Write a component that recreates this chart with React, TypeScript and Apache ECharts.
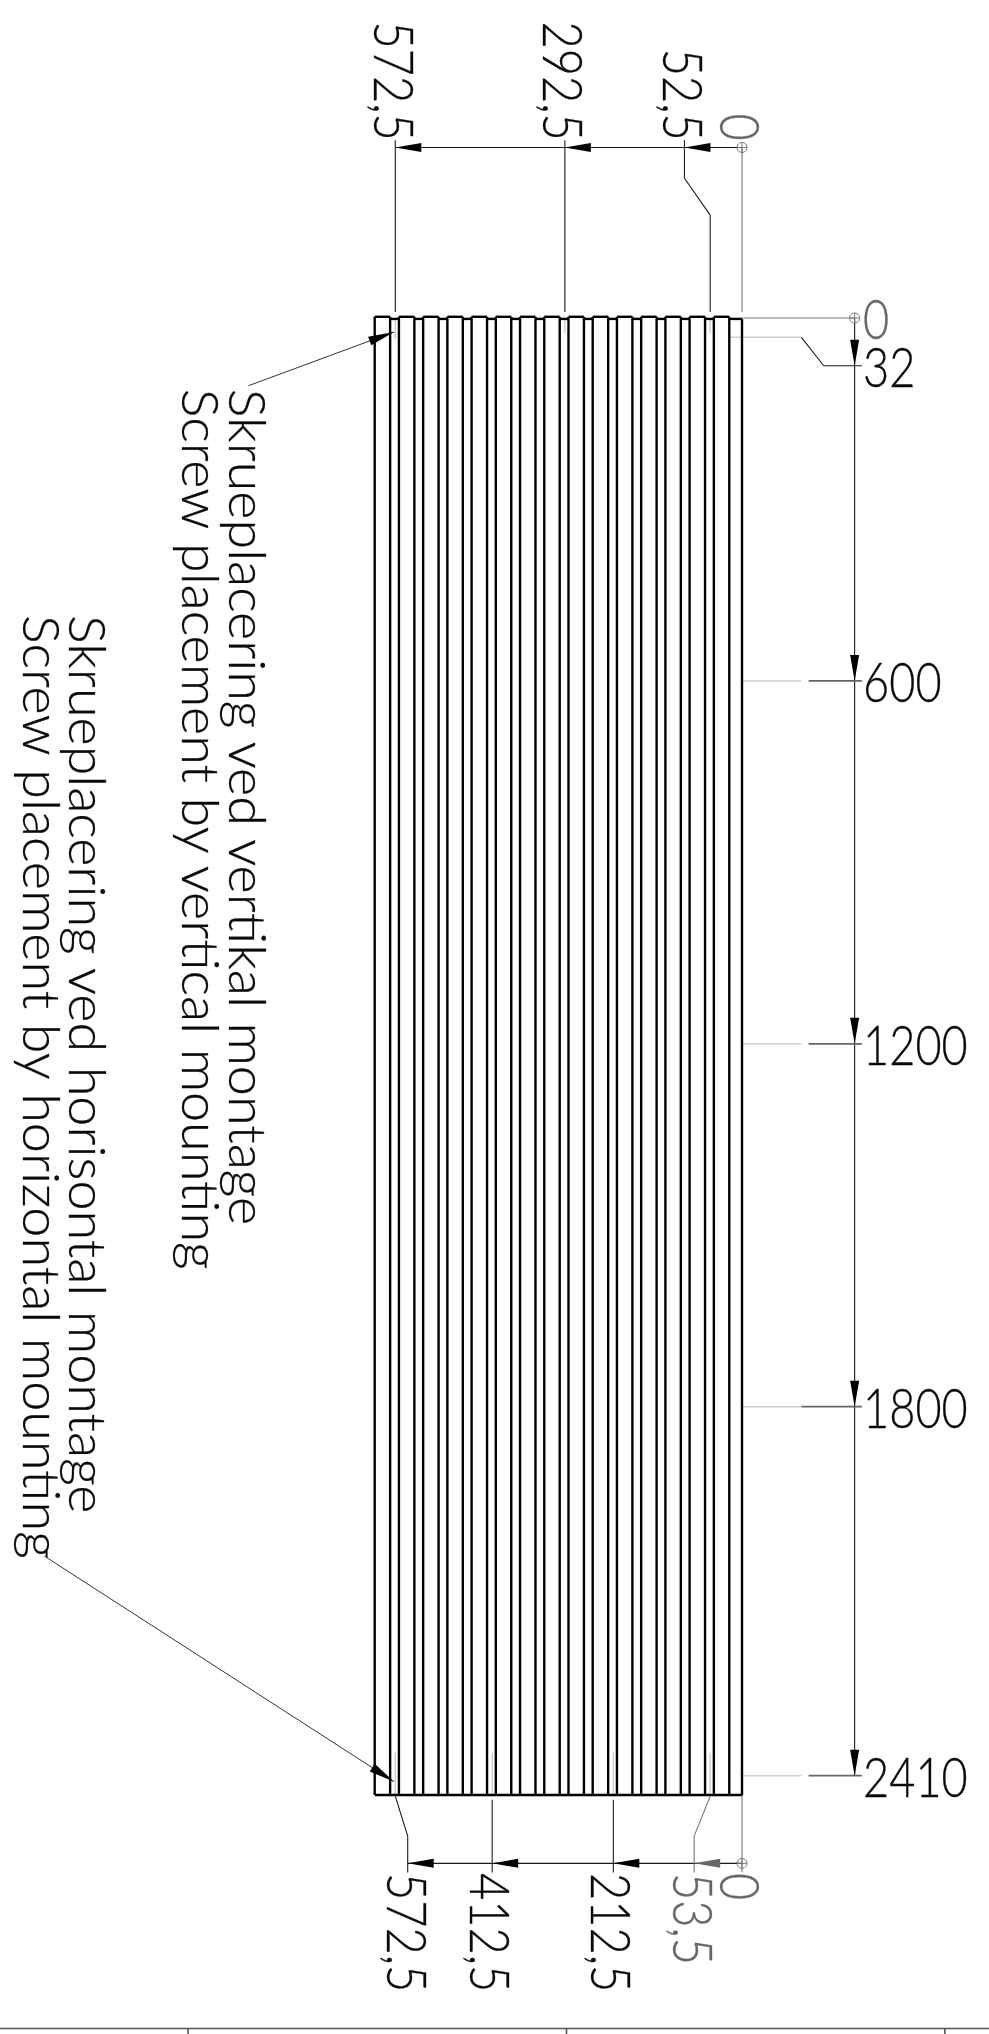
import React, { useEffect, useRef } from "react";
import * as echarts from "echarts";

// All coordinates are millimetres on the drawing; x runs leftwards from the panel's right edge.
const panelWidth = 606;
const panelHeight = 2442;
const ribStart = [21, 61, 101, 141, 181, 221, 261, 301, 341, 381, 421, 461, 501, 541, 581];
const ribEnd = [46.5, 86.5, 126.5, 166.5, 206.5, 246.5, 286.5, 326.5, 366.5, 406.5, 446.5, 486.5, 526.5, 566.5, 606.5];

const topDims = [572.5, 292.5, 52.5];
const bottomDims = [572.5, 412.5, 212.5];
const sideDims = [600, 1200, 1800, 2410];
const firstRow = 32;

const topLabels = ["572,5", "292,5", "52,5", "0"];
const bottomLabels = ["572,5", "412,5", "212,5", "53,5", "0"];
const sideLabels = ["0", "32", "600", "1200", "1800", "2410"];
const noteLines = [
  "Skrueplacering ved vertikal montage",
  "Screw placement by vertical mounting",
  "Skrueplacering ved horisontal montage",
  "Screw placement by horizontal mounting",
];

type Row = number[];

const topY = -282;
const botY = 2555;
const sideX = -186;

const heavyRows: Row[] = (() => {
  const rows: Row[] = [[0, 1.5, 0, panelHeight]];
  let last = 0;
  ribStart.forEach((s, i) => {
    const e = ribEnd[i];
    rows.push([last, 1.5, s, 1.5]);
    rows.push([s, -2, e, -2]);
    rows.push([s, -2, s, panelHeight]);
    rows.push([e, -2, e, panelHeight]);
    last = e;
  });
  rows.push([-1, panelHeight, panelWidth, panelHeight]);
  return rows;
})();

const thinRows: Row[] = [
  [topDims[0], topY, 0, topY],
  [topDims[0], -294, topDims[0], -10],
  [topDims[1], -294, topDims[1], -10],
  [95, -294, 95, -231],
  [95, -231, topDims[2], -170],
  [topDims[2], -170, topDims[2], -10],
  [sideX, 0, sideX, sideDims[3]],
  [-98, firstRow, -135, 79],
  [-135, 79, -198, 79],
  [topDims[0], panelHeight + 2, 552, 2510],
  [552, 2510, 552, 2570],
  [552, botY, 0, botY],
  [bottomDims[1], 2450, bottomDims[1], 2570],
  [bottomDims[2], 2450, bottomDims[2], 2570],
];

const midRows: Row[] = [
  [0, topY, 0, -10],
  [0, panelHeight + 2, 0, 2570],
  [52.5, panelHeight + 2, 79, 2510],
  [79, 2510, 79, 2570],
];

const tickRows: Row[] = sideDims.map((v, i) => [i === 2 ? -98 : -110, v, -198, v]);

const paleRows: Row[] = [
  [21, firstRow, -98, firstRow],
  ...sideDims.map((v) => [0, v, -98, v]),
  [topDims[0], 0, topDims[0], 35],
  [topDims[1], 0, topDims[1], 25],
  [topDims[2], 0, topDims[2], 25],
  [topDims[0], 2372, topDims[0], panelHeight],
  [bottomDims[1], 2372, bottomDims[1], panelHeight],
  [bottomDims[2], 2372, bottomDims[2], panelHeight],
  [52.5, 2372, 52.5, panelHeight],
];

const originRows: Row[] = [[0, 0, sideX, 0]];

const leaderRows: Row[] = [
  [815, 112, 574.5, 23],
  [1152, 2047, 574.5, 2420],
];

const frameRows: Row[] = [
  [-408, 2828, 1225, 2828],
  [914.6, 2828, 914.6, 2860],
  [289.8, 2828, 289.8, 2860],
  [-335, 2828, -335, 2860],
];

// x, y, direction (0 left, 1 down), colour index
const arrowRows: Row[] = [
  [topDims[0], topY, 0, 0],
  [topDims[1], topY, 0, 0],
  [95, topY, 0, 0],
  [sideX, 79, 1, 0],
  [sideX, sideDims[0], 1, 0],
  [sideX, sideDims[1], 1, 0],
  [sideX, sideDims[2], 1, 0],
  [sideX, sideDims[3], 1, 0],
  [552, botY, 0, 0],
  [bottomDims[1], botY, 0, 0],
  [bottomDims[2], botY, 0, 0],
  [79, botY, 0, 1],
];

const circleRows: Row[] = [
  [0, topY],
  [sideX, 0],
  [0, botY],
];

type Label = { t: string; x: number; y: number; c: string; a: string; r: boolean; note: boolean };
const ink = "#0a0a0a";
const grey = "#666666";
const labelRows: Label[] = [
  { t: topLabels[0], x: 572.7, y: -293, c: ink, a: "right", r: true, note: false },
  { t: topLabels[1], x: 292.2, y: -293, c: ink, a: "right", r: true, note: false },
  { t: topLabels[2], x: 94.1, y: -293, c: ink, a: "right", r: true, note: false },
  { t: topLabels[3], x: 1, y: -293, c: grey, a: "right", r: true, note: false },
  { t: sideLabels[0], x: -200, y: 0, c: grey, a: "left", r: false, note: false },
  { t: sideLabels[1], x: -200, y: 79, c: ink, a: "left", r: false, note: false },
  { t: sideLabels[2], x: -200, y: sideDims[0], c: ink, a: "left", r: false, note: false },
  { t: sideLabels[3], x: -200, y: sideDims[1], c: ink, a: "left", r: false, note: false },
  { t: sideLabels[4], x: -200, y: sideDims[2], c: ink, a: "left", r: false, note: false },
  { t: sideLabels[5], x: -200, y: sideDims[3], c: ink, a: "left", r: false, note: false },
  { t: bottomLabels[0], x: 551, y: 2571, c: ink, a: "left", r: true, note: false },
  { t: bottomLabels[1], x: 413, y: 2571, c: ink, a: "left", r: true, note: false },
  { t: bottomLabels[2], x: 213, y: 2571, c: ink, a: "left", r: true, note: false },
  { t: bottomLabels[3], x: 79, y: 2571, c: grey, a: "left", r: true, note: false },
  { t: bottomLabels[4], x: 1.3, y: 2571, c: grey, a: "left", r: true, note: false },
  { t: noteLines[0], x: 815, y: 117, c: ink, a: "left", r: true, note: true },
  { t: noteLines[1], x: 892, y: 117, c: ink, a: "left", r: true, note: true },
  { t: noteLines[2], x: 1079, y: 491, c: ink, a: "left", r: true, note: true },
  { t: noteLines[3], x: 1155, y: 491, c: ink, a: "left", r: true, note: true },
];

function segments(name: string, rows: Row[], color: string, width: number) {
  return {
    type: "custom",
    name,
    silent: true,
    data: rows,
    encode: { x: [0, 2], y: [1, 3] },
    renderItem: (_: any, api: any) => {
      const a = api.coord([api.value(0), api.value(1)]);
      const b = api.coord([api.value(2), api.value(3)]);
      return {
        type: "line",
        shape: { x1: a[0], y1: a[1], x2: b[0], y2: b[1] },
        style: { stroke: color, lineWidth: width, fill: "none" },
      };
    },
  };
}

const ARROW_LONG = 26;
const ARROW_HALF = 4.5;

export default function App() {
  const ref = useRef<HTMLDivElement>(null);
  useEffect(() => {
    if (!ref.current) return;
    const chart = echarts.init(ref.current, undefined, { renderer: "svg" });
    chart.setOption({
      animation: false,
      backgroundColor: "#ffffff",
      grid: { left: 375, top: 318, width: 367, height: 1477, containLabel: false },
      xAxis: { type: "value", min: 0, max: panelWidth, inverse: true, show: false },
      yAxis: { type: "value", min: 0, max: panelHeight, inverse: true, show: false },
      series: [
        segments("pale", paleRows, "#cfcfcf", 1.5),
        segments("origin", originRows, "#a8a8a8", 1.5),
        segments("panel", heavyRows, "#000000", 2.4),
        segments("thin", thinRows, "#1a1a1a", 1.1),
        segments("mid", midRows, "#777777", 1.1),
        segments("ticks", tickRows, "#666666", 1.8),
        segments("leaders", leaderRows, "#333333", 1),
        segments("frame", frameRows, "#555555", 1.6),
        {
          type: "custom",
          name: "arrows",
          silent: true,
          data: arrowRows,
          renderItem: (_: any, api: any) => {
            const p = api.coord([api.value(0), api.value(1)]);
            const dir = api.value(2);
            const pts =
              dir === 0
                ? [p, [p[0] + ARROW_LONG, p[1] - ARROW_HALF], [p[0] + ARROW_LONG, p[1] + ARROW_HALF]]
                : [p, [p[0] - ARROW_HALF, p[1] - ARROW_LONG], [p[0] + ARROW_HALF, p[1] - ARROW_LONG]];
            return {
              type: "polygon",
              shape: { points: pts },
              style: { fill: api.value(3) === 1 ? "#666666" : "#000000" },
            };
          },
        },
        {
          type: "custom",
          name: "pointers",
          silent: true,
          data: leaderRows,
          renderItem: (_: any, api: any) => {
            const s = api.coord([api.value(0), api.value(1)]);
            const p = api.coord([api.value(2), api.value(3)]);
            const len = Math.hypot(s[0] - p[0], s[1] - p[1]) || 1;
            const ux = (s[0] - p[0]) / len;
            const uy = (s[1] - p[1]) / len;
            const bx = p[0] + ux * ARROW_LONG;
            const by = p[1] + uy * ARROW_LONG;
            return {
              type: "polygon",
              shape: {
                points: [
                  p,
                  [bx - uy * ARROW_HALF, by + ux * ARROW_HALF],
                  [bx + uy * ARROW_HALF, by - ux * ARROW_HALF],
                ],
              },
              style: { fill: "#000000" },
            };
          },
        },
        {
          type: "custom",
          name: "origins",
          silent: true,
          data: circleRows,
          renderItem: (_: any, api: any) => {
            const p = api.coord([api.value(0), api.value(1)]);
            return {
              type: "group",
              children: [
                { type: "circle", shape: { cx: p[0], cy: p[1], r: 5 }, style: { fill: "none", stroke: "#777777", lineWidth: 1 } },
                { type: "line", shape: { x1: p[0] - 5, y1: p[1], x2: p[0] + 5, y2: p[1] }, style: { stroke: "#777777", lineWidth: 1 } },
                { type: "line", shape: { x1: p[0], y1: p[1] - 5, x2: p[0], y2: p[1] + 5 }, style: { stroke: "#777777", lineWidth: 1 } },
              ],
            };
          },
        },
        {
          type: "custom",
          name: "labels",
          silent: true,
          data: labelRows.map((l) => [l.x, l.y]),
          renderItem: (params: any, api: any) => {
            const l = labelRows[params.dataIndex];
            const p = api.coord([l.x, l.y]);
            return {
              type: "text",
              x: p[0],
              y: p[1],
              rotation: l.r ? -Math.PI / 2 : 0,
              scaleX: l.note ? 1.017 : l.r ? 1 : 0.96,
              scaleY: l.note ? 0.96 : 1.18,
              style: {
                text: l.t,
                fill: l.c,
                stroke: l.c,
                lineWidth: 0.3,
                font: `300 ${l.note ? 53 : 47}px Lato, "Noto Sans", sans-serif`,
                align: l.a,
                verticalAlign: "middle",
              },
            };
          },
        },
      ],
    });
    return () => chart.dispose();
  }, []);
  return <div ref={ref} style={{ position: "absolute", left: 0, top: 0, width: 989, height: 2034 }} />;
}
